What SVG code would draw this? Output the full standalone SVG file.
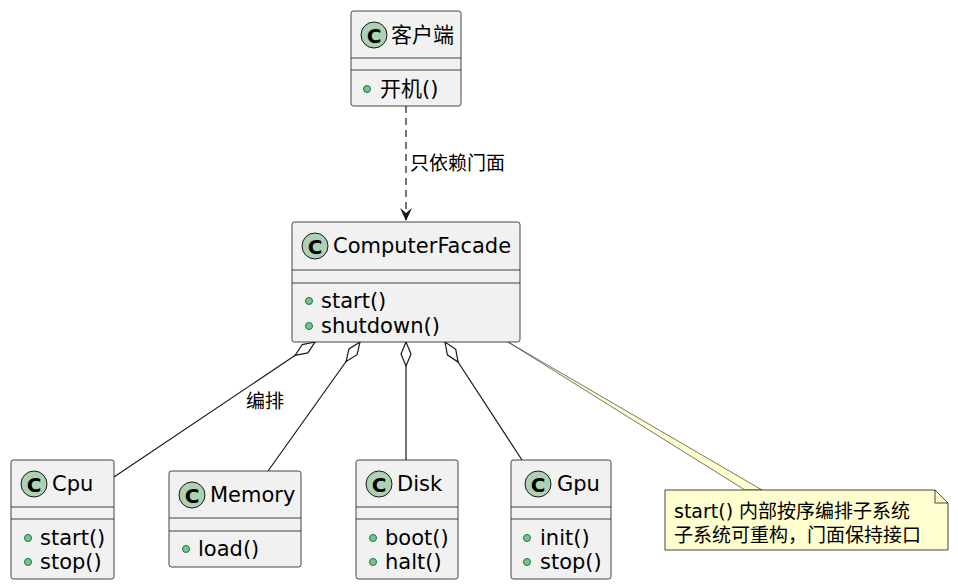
<svg xmlns="http://www.w3.org/2000/svg" width="958" height="588" viewBox="0 0 958 588">
<style>
.box{fill:#f1f1f1;stroke:#181818;stroke-width:0.8}
.sep{stroke:#181818;stroke-width:0.8}
.t{font-family:"DejaVu Sans","Noto Sans CJK SC",sans-serif;font-size:21px;fill:#000}
.l{font-family:"DejaVu Sans","Noto Sans CJK SC",sans-serif;font-size:19px;fill:#000}
.ci{fill:#add1b2;stroke:#181818;stroke-width:1}
.cl{font-family:"DejaVu Sans",sans-serif;font-size:20px;font-weight:bold;fill:#000}
.dot{fill:#84be84;stroke:#038048;stroke-width:1}
.ln{stroke:#181818;stroke-width:1.2;fill:none}
.dia{fill:#fff;stroke:#181818;stroke-width:1.2}
</style>
<defs>
<path id="d" d="M0,0 l-5,12 l5,12 l5,-12 z"/>
<g id="C"><circle cx="0" cy="0" r="13" class="ci"/><text x="0" y="7.5" text-anchor="middle" class="cl">C</text></g>
</defs>
<g id="connectors">
<path class="ln" d="M406,106 V220" stroke-dasharray="7,5"/>
<path d="M400,208 L406,221 L412,208 L406,213 z" fill="#181818"/>
<text x="410" y="170" class="l">只依赖门面</text>
<path class="ln" d="M315,342 L114,477"/>
<use href="#d" class="dia" transform="translate(315,342) rotate(56.1)"/>
<text x="246" y="408" class="l">编排</text>
<path class="ln" d="M360,342 L268,471"/>
<use href="#d" class="dia" transform="translate(360,342) rotate(35.5)"/>
<path class="ln" d="M406,342 V460"/>
<use href="#d" class="dia" transform="translate(406,342)"/>
<path class="ln" d="M445,342 L522,460"/>
<use href="#d" class="dia" transform="translate(445,342) rotate(-33.1)"/>
<path d="M508,342 L745,490 L762,490 Z" fill="#fefece" stroke="#181818" stroke-width="0.6"/>
</g>
<g id="client">
<rect class="box" x="351" y="11" width="110" height="95" rx="2.5"/>
<use href="#C" x="374" y="35"/>
<text x="391" y="42" class="t">客户端</text>
<path class="sep" d="M351,58 H461 M351,70 H461"/>
<circle class="dot" cx="367" cy="89" r="3.5"/><text x="380" y="96" class="t">开机()</text>
</g>
<g id="facade">
<rect class="box" x="292" y="222" width="228" height="120" rx="2.5"/>
<use href="#C" x="315" y="246"/>
<text x="333" y="253" class="t">ComputerFacade</text>
<path class="sep" d="M292,270 H520 M292,283 H520"/>
<circle class="dot" cx="309" cy="301" r="3.5"/><text x="321" y="308" class="t">start()</text>
<circle class="dot" cx="309" cy="326" r="3.5"/><text x="321" y="333" class="t">shutdown()</text>
</g>
<g id="cpu">
<rect class="box" x="11" y="460" width="103" height="119" rx="2.5"/>
<use href="#C" x="34" y="484"/>
<text x="52" y="491" class="t">Cpu</text>
<path class="sep" d="M11,507 H114 M11,519 H114"/>
<circle class="dot" cx="28" cy="538" r="3.5"/><text x="40" y="545" class="t">start()</text>
<circle class="dot" cx="28" cy="562" r="3.5"/><text x="40" y="569" class="t">stop()</text>
</g>
<g id="memory">
<rect class="box" x="169" y="471" width="132" height="96" rx="2.5"/>
<use href="#C" x="192" y="495"/>
<text x="210" y="502" class="t">Memory</text>
<path class="sep" d="M169,518 H301 M169,531 H301"/>
<circle class="dot" cx="186" cy="549" r="3.5"/><text x="198" y="556" class="t">load()</text>
</g>
<g id="disk">
<rect class="box" x="356" y="460" width="102" height="119" rx="2.5"/>
<use href="#C" x="379" y="484"/>
<text x="397" y="491" class="t">Disk</text>
<path class="sep" d="M356,507 H458 M356,519 H458"/>
<circle class="dot" cx="373" cy="538" r="3.5"/><text x="385" y="545" class="t">boot()</text>
<circle class="dot" cx="373" cy="562" r="3.5"/><text x="385" y="569" class="t">halt()</text>
</g>
<g id="gpu">
<rect class="box" x="511" y="460" width="100" height="119" rx="2.5"/>
<use href="#C" x="538" y="484"/>
<text x="557" y="491" class="t">Gpu</text>
<path class="sep" d="M511,507 H611 M511,519 H611"/>
<circle class="dot" cx="527" cy="538" r="3.5"/><text x="540" y="545" class="t">init()</text>
<circle class="dot" cx="527" cy="562" r="3.5"/><text x="540" y="569" class="t">stop()</text>
</g>
<g id="note">
<path d="M665,490 H935 L948,503 V550 H665 Z" fill="#fefece" stroke="#181818" stroke-width="0.8"/>
<path d="M935,490 V503 H948" fill="none" stroke="#181818" stroke-width="0.8"/>
<text x="674" y="518" class="l" font-size="20">start() 内部按序编排子系统</text>
<text x="674" y="542" class="l" font-size="20">子系统可重构，门面保持接口</text>
</g>
</svg>
